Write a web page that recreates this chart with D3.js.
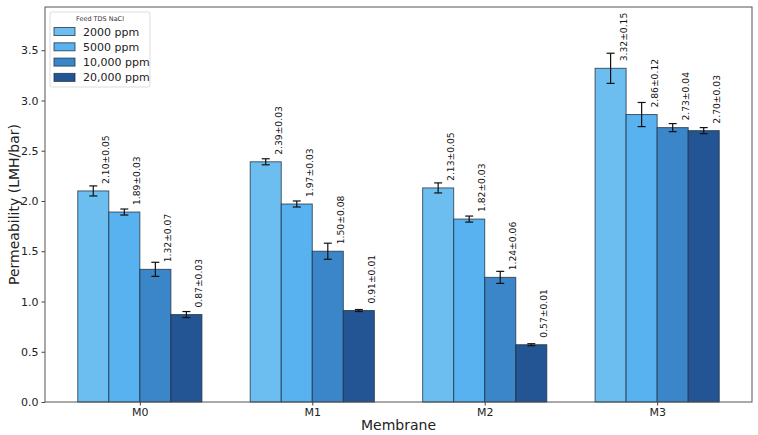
<!DOCTYPE html>
<html>
<head>
<meta charset="utf-8">
<script src="https://cdn.jsdelivr.net/npm/d3@7"></script>
<style>
  body { margin: 0; background: #fff; }
  text { font-family: "DejaVu Sans", sans-serif; }
</style>
</head>
<body>
<svg width="758" height="435"></svg>
<script>
var membranes = ['M0', 'M1', 'M2', 'M3'];
var feeds = ['2000 ppm', '5000 ppm', '10,000 ppm', '20,000 ppm'];
var means = [
  [2.10, 1.89, 1.32, 0.87],
  [2.39, 1.97, 1.50, 0.91],
  [2.13, 1.82, 1.24, 0.57],
  [3.32, 2.86, 2.73, 2.70]
];
var errs = [
  [0.05, 0.03, 0.07, 0.03],
  [0.03, 0.03, 0.08, 0.01],
  [0.05, 0.03, 0.06, 0.01],
  [0.15, 0.12, 0.04, 0.03]
];
var yTicks = [0, 0.5, 1.0, 1.5, 2.0, 2.5, 3.0, 3.5];

var svg = d3.select('svg'),
    margin = {left: 45, right: 6, top: 7, bottom: 33},
    width = +svg.attr('width'),
    height = +svg.attr('height'),
    color = d3.scaleOrdinal().domain(feeds).range(['#6dbef0', '#58b2f0', '#3b86c9', '#235595']),
    barW = 0.18;

var x = d3.scaleLinear().domain([-0.55, 3.55]).range([margin.left, width - margin.right]);
var y = d3.scaleLinear().domain([0, 3.93]).range([height - margin.bottom, margin.top]);

var rows = [];
membranes.forEach(function(m, i) {
  feeds.forEach(function(f, j) {
    rows.push({m: m, i: i, f: f, j: j, v: means[i][j], e: errs[i][j]});
  });
});
function cx(d) { return x(d.i + (d.j - 1.5) * barW); }

// bars
svg.append('g').selectAll('rect')
  .data(rows).enter().append('rect')
    .attr('x', function(d) { return cx(d) - (x(barW) - x(0)) / 2; })
    .attr('width', x(barW) - x(0))
    .attr('y', function(d) { return y(d.v); })
    .attr('height', function(d) { return y(0) - y(d.v); })
    .attr('fill', function(d) { return color(d.f); })
    .attr('stroke', '#1c2c3c')
    .attr('stroke-opacity', 0.75)
    .attr('stroke-width', 1);

// error bars
var eb = svg.append('g').attr('stroke', '#111').attr('stroke-width', 1.2);
eb.selectAll('line.v').data(rows).enter().append('line')
  .attr('x1', cx).attr('x2', cx)
  .attr('y1', function(d) { return y(d.v - d.e); })
  .attr('y2', function(d) { return y(d.v + d.e); });
[-1, 1].forEach(function(s) {
  eb.selectAll('line.c' + s).data(rows).enter().append('line')
    .attr('x1', function(d) { return cx(d) - 4; })
    .attr('x2', function(d) { return cx(d) + 4; })
    .attr('y1', function(d) { return y(d.v + s * d.e); })
    .attr('y2', function(d) { return y(d.v + s * d.e); });
});

// value labels, just above the bar top, right of centre
svg.append('g').selectAll('text')
  .data(rows).enter().append('text')
    .attr('transform', function(d) {
      return 'translate(' + (cx(d) + 12.5) + ',' + (y(d.v) - 7) + ') rotate(-90)';
    })
    .attr('dominant-baseline', 'central')
    .attr('font-size', 9.2)
    .attr('fill', '#111')
    .text(function(d) { return d.v.toFixed(2) + '\u00b1' + d.e.toFixed(2); });

// axes
var yAxis = svg.append('g')
  .attr('transform', 'translate(' + margin.left + ',0)')
  .call(d3.axisLeft(y).tickValues(yTicks).tickFormat(d3.format('.1f')).tickSize(3.5).tickPadding(3));
var xAxis = svg.append('g')
  .attr('transform', 'translate(0,' + y(0) + ')')
  .call(d3.axisBottom(x).tickValues(d3.range(membranes.length)).tickFormat(function(i) { return membranes[i]; }).tickSize(3.5).tickPadding(3));
[yAxis, xAxis].forEach(function(a) {
  a.select('.domain').remove();
  a.selectAll('text').attr('font-size', 11).attr('fill', '#222').style('font-family', '"DejaVu Sans", sans-serif');
  a.selectAll('line').attr('stroke', '#444');
});

// frame
svg.append('rect')
  .attr('x', margin.left).attr('y', margin.top)
  .attr('width', width - margin.left - margin.right)
  .attr('height', y(0) - margin.top)
  .attr('fill', 'none').attr('stroke', '#555').attr('stroke-width', 1);

svg.append('text')
  .attr('x', (margin.left + width - margin.right) / 2).attr('y', 430)
  .attr('text-anchor', 'middle').attr('font-size', 14).attr('fill', '#222')
  .text('Membrane');
svg.append('text')
  .attr('transform', 'translate(19,' + ((margin.top + y(0)) / 2) + ') rotate(-90)')
  .attr('text-anchor', 'middle').attr('font-size', 14).attr('fill', '#222')
  .text('Permeability (LMH/bar)');

// legend
var lg = svg.append('g').attr('transform', 'translate(50,12)');
lg.append('rect').attr('width', 100).attr('height', 75).attr('rx', 2)
  .attr('fill', '#fff').attr('fill-opacity', 0.8).attr('stroke', '#ddd');
lg.append('text').attr('x', 50).attr('y', 9).attr('text-anchor', 'middle')
  .attr('font-size', 6.5).attr('fill', '#333').text('Feed TDS NaCl');
var items = lg.selectAll('g.item').data(feeds).enter().append('g')
  .attr('transform', function(d, i) { return 'translate(0,' + (20 + i * 15.3) + ')'; });
items.append('rect').attr('x', 4).attr('y', -4.5).attr('width', 21).attr('height', 8)
  .attr('fill', function(d) { return color(d); })
  .attr('stroke', '#1c2c3c').attr('stroke-opacity', 0.75);
items.append('text').attr('x', 33).attr('y', 0).attr('dominant-baseline', 'central')
  .attr('font-size', 11).attr('fill', '#222').text(function(d) { return d; });
</script>
</body>
</html>
